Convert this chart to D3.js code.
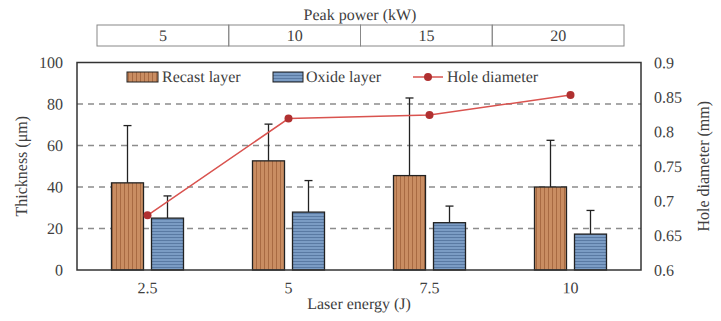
<!DOCTYPE html>
<html><head><meta charset="utf-8">
<script src="https://cdn.jsdelivr.net/npm/d3@7"></script>
</head><body style="margin:0;background:#fff"><svg id="c" width="721" height="321"></svg>
<script>
const energy = ["2.5","5","7.5","10"];
const peakPower = ["5","10","15","20"];
const recast = [42, 52.6, 45.5, 40];
const recastErr = [27.6, 17.7, 37.4, 22.5];
const oxide = [25, 27.9, 22.8, 17.3];
const oxideErr = [10.7, 15.2, 8.0, 11.4];
const holeDia = [0.679, 0.819, 0.824, 0.853];
const leftTicks = [0,20,40,60,80,100];
const rightTicks = [0.6,0.65,0.7,0.75,0.8,0.85,0.9];

const svg = d3.select("#c");
const L=77, R=641, T=62.5, B=270;
const x = d3.scaleBand().domain(energy).range([L,R]);
const y = d3.scaleLinear().domain([0,100]).range([B,T]);
const y2 = d3.scaleLinear().domain([0.6,0.9]).range([B,T]);
const defs = svg.append("defs");
const pr = defs.append("pattern").attr("id","pr").attr("patternUnits","userSpaceOnUse").attr("width",4).attr("height",4);
pr.append("rect").attr("width",4).attr("height",4).attr("fill","#c98d62");
pr.append("rect").attr("x",0).attr("width",1).attr("height",4).attr("fill","#a86a42");
const po = defs.append("pattern").attr("id","po").attr("patternUnits","userSpaceOnUse").attr("width",4).attr("height",3);
po.append("rect").attr("width",4).attr("height",3).attr("fill","#7b9cc4");
po.append("rect").attr("y",0).attr("width",4).attr("height",1).attr("fill","#5a7aa3");

// grid
svg.append("g").selectAll("line").data(leftTicks.filter(d=>d>0&&d<100)).join("line")
 .attr("x1",L).attr("x2",R).attr("y1",d=>y(d)).attr("y2",d=>y(d))
 .attr("stroke","#8c8c8c").attr("stroke-width",1.5).attr("stroke-dasharray","6,5");

// bars
const bw=32, gap=8;
const g = svg.append("g");
energy.forEach((e,i)=>{
  const cx = x(e)+x.bandwidth()/2;
  const xr = cx - gap/2 - bw, xo = cx + gap/2;
  [[xr,recast[i],recastErr[i]],[xo,oxide[i],oxideErr[i]]].forEach(([bx,v,er])=>{
    const mx = bx+bw/2;
    g.append("line").attr("x1",mx).attr("x2",mx).attr("y1",y(v)).attr("y2",y(v+er)).attr("stroke","#222").attr("stroke-width",1.3);
    g.append("line").attr("x1",mx-4).attr("x2",mx+4).attr("y1",y(v+er)).attr("y2",y(v+er)).attr("stroke","#222").attr("stroke-width",1.3);
  });
  g.append("rect").attr("x",xr).attr("y",y(recast[i])).attr("width",bw).attr("height",y(0)-y(recast[i]))
   .attr("fill","url(#pr)").attr("stroke","#222").attr("stroke-width",1.3);
  g.append("rect").attr("x",xo).attr("y",y(oxide[i])).attr("width",bw).attr("height",y(0)-y(oxide[i]))
   .attr("fill","url(#po)").attr("stroke","#222").attr("stroke-width",1.3);
});

// line
const lx = e=>x(e)+x.bandwidth()/2;
svg.append("path").datum(holeDia).attr("fill","none").attr("stroke","#d9534f").attr("stroke-width",1.5)
 .attr("d", d3.line().x((d,i)=>lx(energy[i])).y(d=>y2(d)));
svg.append("g").selectAll("circle").data(holeDia).join("circle")
 .attr("cx",(d,i)=>lx(energy[i])).attr("cy",d=>y2(d)).attr("r",4).attr("fill","#b03030");

// frame
svg.append("rect").attr("x",L).attr("y",T).attr("width",R-L).attr("height",B-T).attr("fill","none").attr("stroke","#333").attr("stroke-width",1.5);

// axes
const ax = svg.append("g").attr("transform",`translate(0,${B})`).call(d3.axisBottom(x).tickSize(0).tickPadding(12));
ax.select(".domain").remove();
const ay = svg.append("g").attr("transform",`translate(${L},0)`).call(d3.axisLeft(y).tickValues(leftTicks).tickSize(0).tickPadding(14));
ay.select(".domain").remove();
const ay2 = svg.append("g").attr("transform",`translate(${R},0)`).call(d3.axisRight(y2).tickValues(rightTicks).tickFormat(d=>String(+d.toFixed(2))).tickSize(0).tickPadding(13));
ay2.select(".domain").remove();
svg.selectAll(".tick text").attr("transform","rotate(0.05)");

const ht = (tx,ty,s,anchor)=>svg.append("text").attr("transform",`translate(${tx},${ty}) rotate(0.05)`).attr("text-anchor",anchor||"start").text(s);
ht((L+R)/2,309,"Laser energy (J)","middle");
svg.append("text").attr("transform",`translate(27,${(T+B)/2}) rotate(-90)`).attr("text-anchor","middle").text("Thickness (μm)");
svg.append("text").attr("transform",`translate(709,${(T+B)/2}) rotate(-90)`).attr("text-anchor","middle").text("Hole diameter (mm)");

// top peak power box
const px = d3.scaleBand().domain(peakPower).range([97,624]);
ht(360,20,"Peak power (kW)","middle");
const tb = svg.append("g");
tb.selectAll("rect").data(peakPower).join("rect").attr("x",d=>px(d)).attr("y",25).attr("width",px.bandwidth()).attr("height",21)
 .attr("fill","none").attr("stroke","#888").attr("stroke-width",1);
peakPower.forEach(d=>ht(px(d)+px.bandwidth()/2,41,d,"middle"));

// legend
const lg = svg.append("g");
lg.append("rect").attr("x",127).attr("y",72).attr("width",31).attr("height",10).attr("fill","url(#pr)").attr("stroke","#222");
ht(162,82,"Recast layer");
lg.append("rect").attr("x",273).attr("y",72).attr("width",30).attr("height",10).attr("fill","url(#po)").attr("stroke","#222");
ht(306,82,"Oxide layer");
lg.append("line").attr("x1",413).attr("x2",443).attr("y1",77).attr("y2",77).attr("stroke","#d9534f").attr("stroke-width",1.5);
lg.append("circle").attr("cx",428).attr("cy",77).attr("r",4).attr("fill","#b03030");
ht(447,82,"Hole diameter");

svg.selectAll("text").style("font-family","'Liberation Serif'").style("font-size","16px").attr("fill","#404040");
</script></body></html>
